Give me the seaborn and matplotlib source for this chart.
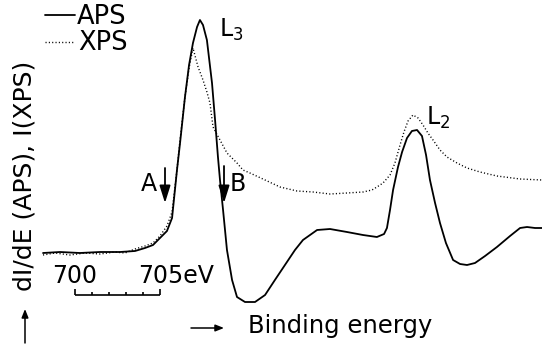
import matplotlib
matplotlib.use("Agg")
import matplotlib.pyplot as plt
from matplotlib.patches import FancyArrowPatch
import seaborn as sns
import pandas as pd

# ---- data (binding energy in eV, intensity in arbitrary units) ----
aps_energy = [698.12, 699.12, 700.29, 701.47, 702.65, 703.53, 704.12, 704.59, 705.00, 705.41,
              705.71, 706.00, 706.18, 706.47, 706.71, 706.94, 707.18, 707.35, 707.53, 707.76,
              708.06, 708.24, 708.41, 708.53, 708.71, 708.94, 709.24, 709.53, 710.00, 710.59,
              711.18, 711.76, 712.35, 712.94, 713.41, 714.24, 715.00, 716.00, 716.94, 717.76,
              718.18, 718.35, 718.53, 718.71, 719.00, 719.24, 719.53, 719.82, 720.12, 720.41,
              720.65, 720.88, 721.18, 721.47, 721.82, 722.24, 722.65, 723.06, 723.53, 724.12,
              724.82, 725.59, 726.18, 726.59, 727.06, 727.47]
aps_signal = [97, 98, 97, 98, 98, 99, 102, 105, 112, 119,
              132, 180, 207, 253, 285, 307, 323, 330, 325, 310,
              267, 230, 193, 170, 140, 100, 70, 53, 48, 48,
              55, 70, 85, 100, 110, 120, 121, 118, 115, 113,
              116, 122, 140, 160, 183, 198, 212, 219, 220, 214,
              195, 170, 147, 127, 107, 90, 86, 85, 87, 94,
              103, 114, 122, 123, 122, 122]

xps_energy = [698.12, 698.82, 699.71, 700.59, 701.47, 702.35, 702.94, 703.53, 704.12, 704.59,
              705.00, 705.41, 705.71, 706.00, 706.18, 706.47, 706.71, 706.94, 707.24, 707.53,
              707.76, 707.94, 708.12, 708.53, 708.94, 709.53, 709.88, 710.29, 711.18, 712.06,
              713.06, 714.00, 715.00, 716.00, 716.94, 717.47, 717.76, 718.12, 718.53, 718.82,
              719.12, 719.35, 719.59, 719.88, 720.18, 720.47, 720.76, 721.06, 721.47, 721.88,
              722.47, 723.06, 723.82, 724.82, 726.18, 727.47]
xps_signal = [95, 97, 95, 97, 96, 98, 97, 101, 104, 107,
              114, 124, 138, 180, 210, 253, 282, 302, 283, 270,
              258, 247, 223, 210, 197, 187, 180, 177, 170, 163,
              159, 158, 156, 157, 158, 160, 163, 167, 175, 187,
              205, 218, 229, 235, 232, 225, 217, 210, 200, 193,
              187, 182, 178, 174, 171, 170]

scale_ticks = [700, 701, 702, 703, 704, 705]
scale_labels = ["700", "705eV"]

# ---- figure ----
sns.set_style("white")
plt.rcParams["font.family"] = ["DejaVu Sans"]
W, H = 542, 350
fig = plt.figure(figsize=(W / 100, H / 100), dpi=100)
ax = fig.add_axes([0, 0, 1, 1])

df_aps = pd.DataFrame({"E": aps_energy, "I": aps_signal})
df_xps = pd.DataFrame({"E": xps_energy, "I": xps_signal})
sns.lineplot(data=df_aps, x="E", y="I", sort=False, estimator=None, ax=ax,
             color="black", linewidth=1.3)
sns.lineplot(data=df_xps, x="E", y="I", sort=False, estimator=None, ax=ax,
             color="black", linewidth=1.0, linestyle=(0, (0.8, 1.6)))

ax.set_xlim(695.59, 727.47)
ax.set_ylim(0, 350)
ax.axis("off")

# scale bar
ax.hlines(55, scale_ticks[0], scale_ticks[-1], color="black", linewidth=1.2)
for t in scale_ticks:
    top = 61 if t in (scale_ticks[0], scale_ticks[-1]) else 58
    ax.vlines(t, 55, top, color="black", linewidth=1.2)


def fx(x):
    return x / W


def fy(y):
    return 1 - y / H


txt = dict(color="black")
fig.text(fx(52), fy(276), scale_labels[0], fontsize=17, ha="left", va="center", **txt)
fig.text(fx(138), fy(276), scale_labels[1], fontsize=17, ha="left", va="center", **txt)

# legend
fig.add_artist(plt.Line2D([fx(45), fx(75)], [fy(15), fy(15)], color="black", linewidth=1.3))
fig.add_artist(plt.Line2D([fx(45), fx(75)], [fy(42), fy(42)], color="black", linewidth=1.0,
                          linestyle=(0, (0.8, 1.6))))
fig.text(fx(77), fy(17), "APS", fontsize=18.5, ha="left", va="center", **txt)
fig.text(fx(78), fy(43), "XPS", fontsize=18.5, ha="left", va="center", **txt)

# peak labels
fig.text(fx(219), fy(30), r"L$_3$", fontsize=17, ha="left", va="center", **txt)
fig.text(fx(426), fy(118), r"L$_2$", fontsize=17, ha="left", va="center", **txt)

# A and B markers
fig.text(fx(141), fy(184), "A", fontsize=17, ha="left", va="center", **txt)
fig.text(fx(230), fy(184), "B", fontsize=17, ha="left", va="center", **txt)


def arrow(p0, p1, hl, hw, lw, scale):
    fig.add_artist(FancyArrowPatch((fx(p0[0]), fy(p0[1])), (fx(p1[0]), fy(p1[1])),
                                   transform=fig.transFigure,
                                   arrowstyle=f"-|>,head_length={hl},head_width={hw}",
                                   mutation_scale=scale, color="black", lw=lw,
                                   shrinkA=0, shrinkB=0))


arrow((165, 168), (165, 203), 0.7, 0.22, 1.3, 15)
arrow((224, 166), (224, 203), 0.7, 0.22, 1.3, 15)

# axis labels
fig.text(fx(25), fy(176), "dI/dE (APS), I(XPS)", fontsize=18, rotation=90,
         ha="center", va="center", **txt)
fig.text(fx(248), fy(326), "Binding energy", fontsize=17.5, ha="left", va="center", **txt)
arrow((191, 328), (224, 328), 0.5, 0.2, 1.1, 10)
arrow((25, 343), (25, 309), 0.5, 0.2, 1.1, 10)

fig.savefig("out.png", dpi=100)
